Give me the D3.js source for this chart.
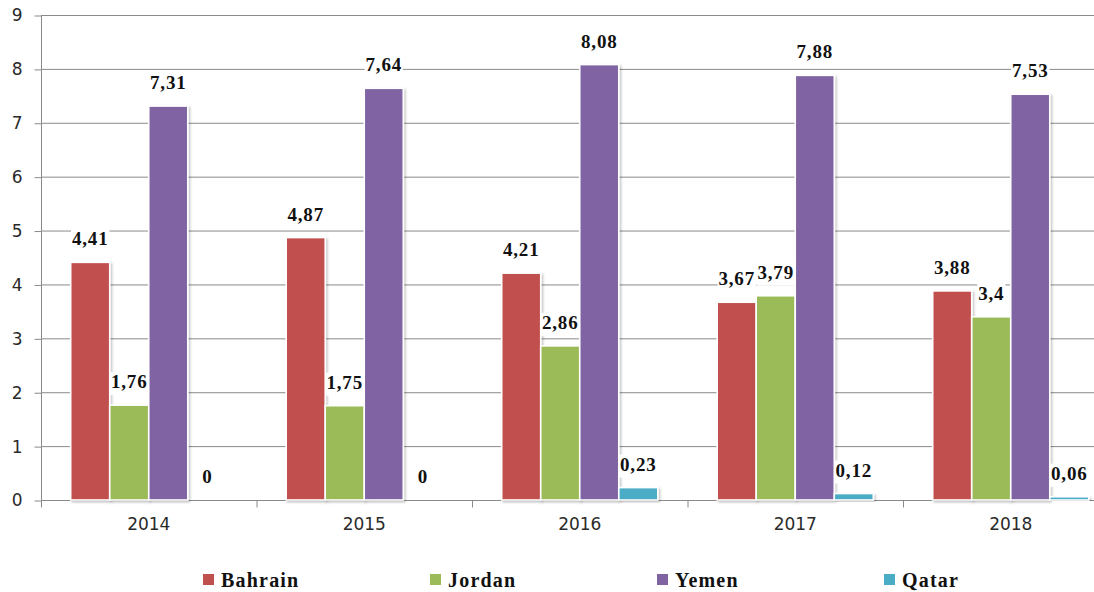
<!DOCTYPE html>
<html>
<head>
<meta charset="utf-8">
<script src="https://cdn.jsdelivr.net/npm/d3@7"></script>
<style>
  html, body { margin: 0; padding: 0; background: #fff; }
  svg { display: block; }
</style>
</head>
<body>
<svg id="chart" width="1094" height="592"></svg>
<script>
const years = ["2014", "2015", "2016", "2017", "2018"];
const seriesNames = ["Bahrain", "Jordan", "Yemen", "Qatar"];
const bahrain = [4.41, 4.87, 4.21, 3.67, 3.88];
const jordan = [1.76, 1.75, 2.86, 3.79, 3.4];
const yemen = [7.31, 7.64, 8.08, 7.88, 7.53];
const qatar = [0, 0, 0.23, 0.12, 0.06];
const seriesColors = ["#C0504D", "#9BBB59", "#8064A2", "#4BACC6"];
const yTicks = [0, 1, 2, 3, 4, 5, 6, 7, 8, 9];

const seriesValues = [bahrain, jordan, yemen, qatar];

const svg = d3.select("#chart");
const pLeft = 41, pRight = 1118.5, pTop = 15, pBottom = 500;

const x0 = d3.scaleBand().domain(years).range([pLeft, pRight]).paddingInner(0).paddingOuter(0);
const bw = x0.bandwidth();
const x1 = d3.scaleBand().domain(seriesNames).range([29.7, bw - 29.7]).padding(0);
const y = d3.scaleLinear().domain([0, 9]).range([pBottom, pTop]);

const gridColor = "#8a8a8a";

// gridlines
svg.append("g").selectAll("line").data(yTicks.filter(d => d > 0)).join("line")
  .attr("x1", pLeft).attr("x2", pRight)
  .attr("y1", d => y(d) + 0.5).attr("y2", d => y(d) + 0.5)
  .attr("stroke", gridColor).attr("stroke-width", 1);

// y axis
const yAxis = d3.axisLeft(y).tickValues(yTicks).tickSize(7).tickPadding(12).tickFormat(d3.format("d"));
const gy = svg.append("g").attr("transform", `translate(${pLeft + 0.5},0.5)`).call(yAxis);
gy.select(".domain").attr("stroke", gridColor).attr("d", `M0,${pTop}V${pBottom}`);
gy.selectAll(".tick line").attr("stroke", gridColor);
gy.selectAll(".tick text").attr("font-family", "DejaVu Sans").attr("font-size", 17).attr("fill", "#2a2a2a");

// x axis
const xAxis = d3.axisBottom(x0).tickSize(0).tickPadding(17);
const gx = svg.append("g").attr("transform", `translate(0,${pBottom + 0.5})`).call(xAxis);
gx.select(".domain").attr("stroke", gridColor).attr("d", `M${pLeft},0H${pRight}`);
gx.selectAll(".tick text").attr("font-family", "DejaVu Sans").attr("font-size", 17)
  .attr("fill", "#2a2a2a");
// category boundary tick marks
gx.append("g").selectAll("line").data(years.concat(["end"])).join("line")
  .attr("x1", (d, i) => (i < years.length ? x0(d) : pRight) + 0.5)
  .attr("x2", (d, i) => (i < years.length ? x0(d) : pRight) + 0.5)
  .attr("y1", 0).attr("y2", 7).attr("stroke", gridColor);

// shadow filter
const defs = svg.append("defs");
const f = defs.append("filter").attr("id", "sh").attr("x", "-20%").attr("y", "-20%").attr("width", "140%").attr("height", "140%");
f.append("feDropShadow").attr("dx", 1.5).attr("dy", 1.5).attr("stdDeviation", 1.2).attr("flood-color", "#000").attr("flood-opacity", 0.25);

// bars
const barData = [];
years.forEach((yr, i) => {
  seriesNames.forEach((s, j) => {
    barData.push({ year: yr, series: s, value: seriesValues[j][i], color: seriesColors[j] });
  });
});

svg.append("g").selectAll("rect").data(barData).join("rect")
  .attr("x", d => x0(d.year) + x1(d.series))
  .attr("width", x1.bandwidth())
  .attr("y", d => y(d.value))
  .attr("height", d => pBottom - y(d.value))
  .attr("fill", d => d.color)
  .attr("stroke", "#fff").attr("stroke-width", 1.6)
  .attr("filter", d => d.value > 0 ? "url(#sh)" : null);

// labels (series order so later series cover earlier)
const fmt = v => String(v).replace(".", ",");
const labG = svg.append("g");
seriesNames.forEach((s, j) => {
  years.forEach((yr, i) => {
    const v = seriesValues[j][i];
    const cx = x0(yr) + x1(s) + x1.bandwidth() / 2;
    const by = y(v) - 17;
    const g = labG.append("g");
    const t = g.append("text")
      .attr("x", cx).attr("y", by)
      .attr("text-anchor", "middle")
      .attr("font-family", "Liberation Serif")
      .attr("font-weight", "bold")
      .attr("font-size", 19)
      .attr("letter-spacing", 0.8)
      .attr("fill", "#111")
      .text(fmt(v));
    const bb = t.node().getBBox();
    g.insert("rect", "text")
      .attr("x", bb.x - 1).attr("y", bb.y + 1)
      .attr("width", bb.width + 2).attr("height", bb.height + 2)
      .attr("fill", "#fff");
  });
});

// legend
const legendStart = 203, legendStep = 227;
const lg = svg.append("g").selectAll("g").data(seriesNames).join("g")
  .attr("transform", (d, i) => `translate(${legendStart + i * legendStep},574)`);
lg.append("rect").attr("x", 0).attr("y", 0).attr("width", 11).attr("height", 11)
  .attr("fill", (d, i) => seriesColors[i]);
lg.append("text").attr("x", 18).attr("y", 13)
  .attr("font-family", "Liberation Serif").attr("font-weight", "bold")
  .attr("font-size", 20).attr("letter-spacing", 1.2).attr("fill", "#111")
  .text(d => d);
</script>
</body>
</html>
